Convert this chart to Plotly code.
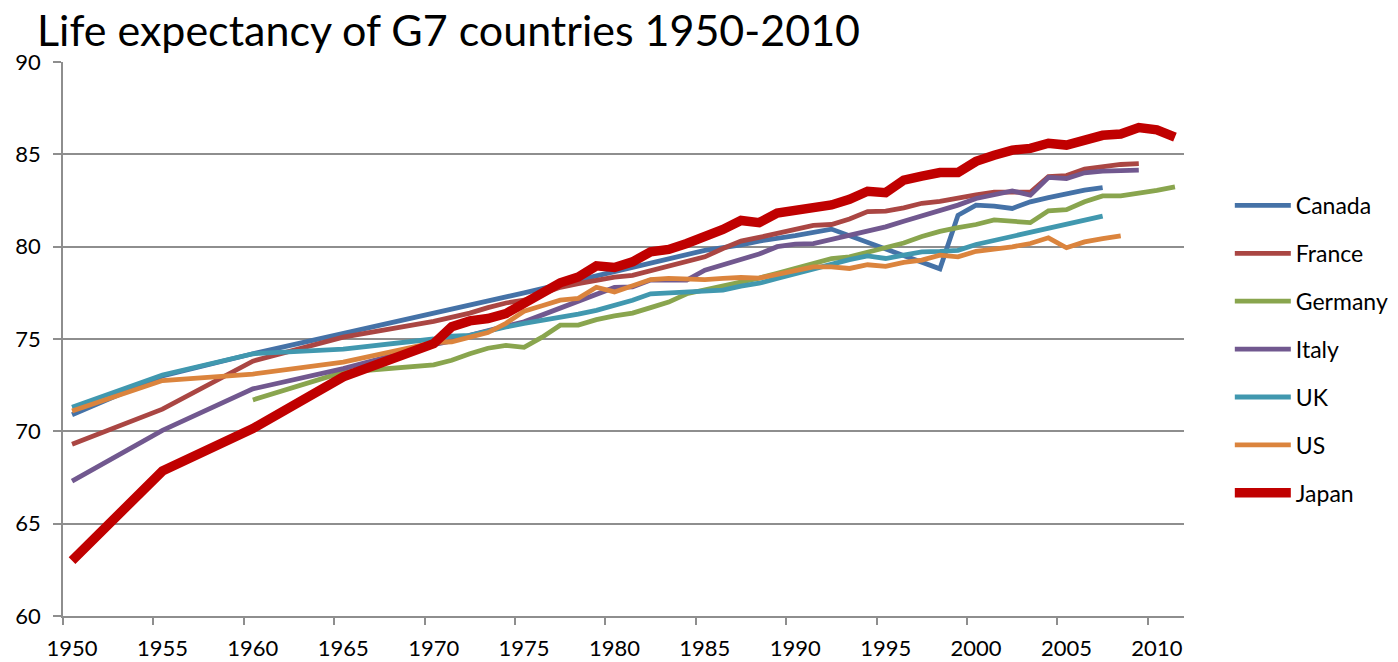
import plotly.graph_objects as go

years = [1950, 1955, 1960, 1965,
         1970, 1971, 1972, 1973, 1974, 1975, 1976, 1977, 1978, 1979,
         1980, 1981, 1982, 1983, 1984, 1985, 1986, 1987, 1988, 1989,
         1990, 1991, 1992, 1993, 1994, 1995, 1996, 1997, 1998, 1999,
         2000, 2001, 2002, 2003, 2004, 2005, 2006, 2007, 2008, 2009,
         2010, 2011]

canada = [70.9, 73.0, 74.2, 75.3,
          76.35, None, None, None, None, 77.5, None, None, None, None,
          78.65, None, None, None, None, 79.8, None, 80.1, 80.3, None,
          80.6, None, 80.95, None, None, None, None, None, 78.8, 81.7,
          82.25, 82.2, 82.07, 82.43, 82.66, 82.88, 83.06, 83.2, None, None,
          None, None]

france = [69.3, 71.2, 73.8, 75.1,
          75.95, 76.15, 76.4, 76.7, 76.95, 77.1, 77.45, 77.8, 78.0, 78.2,
          78.35, 78.45, 78.7, 79.0, 79.2, 79.45, 79.9, 80.3, 80.5, 80.7,
          80.95, 81.15, 81.2, 81.5, 81.9, 81.92, 82.1, 82.35, 82.45, 82.65,
          82.8, 82.95, 82.95, 82.95, 83.8, 83.85, 84.2, 84.35, 84.45, 84.5,
          None, None]

germany = [None, None, 71.7, 73.2,
           73.6, 73.85, 74.2, 74.5, 74.65, 74.55, 75.1, 75.75, 75.75, 76.05,
           76.25, 76.4, 76.7, 77.0, 77.45, 77.65, 77.85, 78.1, 78.3, 78.55,
           78.8, 79.05, 79.35, 79.45, 79.7, 79.98, 80.2, 80.55, 80.83, 81.03,
           81.2, 81.45, 81.35, 81.3, 81.94, 82.0, 82.43, 82.75, 82.75, 82.88,
           83.05, 83.24]

italy = [67.3, 70.05, 72.3, 73.4,
         74.7, 74.9, 75.2, 75.48, 75.7, 75.93, 76.3, 76.74, 77.1, 77.46,
         77.79, 77.82, 78.19, 78.19, 78.19, 78.73, 79.0, 79.27, 79.6, 80.0,
         80.14, 80.17, 80.39, 80.57, 80.8, 81.07, 81.38, 81.67, 81.98, 82.25,
         82.61, 82.84, 83.02, 82.79, 83.75, 83.69, 84.0, 84.09, 84.11, 84.14,
         None, None]

uk = [71.3, 73.05, 74.2, 74.45,
      75.0, 75.15, 75.2, 75.45, 75.65, 75.85, 76.0, 76.15, 76.35, 76.55,
      76.8, 77.1, 77.45, 77.5, 77.55, 77.55, 77.65, 77.86, 78.02, 78.28,
      78.55, 78.82, 79.07, 79.3, 79.5, 79.36, 79.54, 79.72, 79.74, 79.8,
      80.12, None, None, None, None, None, None, 81.65, None, None,
      None, None]

us = [71.1, 72.75, 73.1, 73.75,
      74.8, 74.85, 75.1, 75.35, 75.85, 76.5, 76.8, 77.1, 77.2, 77.8,
      77.55, 77.9, 78.22, 78.28, 78.22, 78.22, 78.28, 78.33, 78.3, 78.5,
      78.72, 78.91, 78.91, 78.82, 79.02, 78.93, 79.15, 79.27, 79.54, 79.45,
      79.75, 79.86, 79.99, 80.17, 80.48, 79.94, 80.26, 80.44, 80.59, None,
      None, None]

japan = [63.0, 67.85, 70.15, 72.95,
         74.75, 75.66, 75.98, 76.11, 76.38, 76.92, 77.46, 78.04, 78.36, 78.96,
         78.87, 79.18, 79.72, 79.85, 80.17, 80.5, 80.93, 81.42, 81.3, 81.82,
         81.98, 82.17, 82.26, 82.56, 83.0, 82.92, 83.6, 83.82, 84.01, 84.01,
         84.62, 84.95, 85.23, 85.32, 85.6, 85.5, 85.81, 86.03, 86.1, 86.45,
         86.33, 85.93]

names = ["Canada", "France", "Germany", "Italy", "UK", "US", "Japan"]
values = [canada, france, germany, italy, uk, us, japan]
colors = ["#4572A7", "#AA4643", "#89A54E", "#71588F", "#4198AF", "#DB843D", "#C00000"]
widths = [4.8, 4.8, 4.8, 4.8, 4.8, 4.8, 9.5]

x_labels = [1950, 1955, 1960, 1965, 1970, 1975, 1980, 1985, 1990, 1995, 2000, 2005, 2010]

FONT = "Lato"
GRID = "#8E8E8E"

fig = go.Figure()
for name, vals, color, w in zip(names, values, colors, widths):
    fig.add_trace(go.Scatter(
        x=years, y=vals, name=name, mode="lines", connectgaps=True,
        legendgroup=name,
        line=dict(color=color, width=w, shape="linear"),
    ))

fig.update_layout(
    width=1390, height=654,
    margin=dict(l=55, r=214, t=54, b=46, pad=0, autoexpand=False),
    paper_bgcolor="white", plot_bgcolor="white",
    font=dict(family=FONT, color="#000000"),
    title=dict(text="Life expectancy of G7 countries 1950-2010",
               font=dict(family=FONT, size=43, color="#000000"),
               x=29 / 1390, xanchor="left", xref="container",
               y=1 - 8 / 654, yanchor="top", yref="container"),
    showlegend=True,
    legend=dict(x=0.879, xanchor="left", xref="container",
                y=0.481, yanchor="middle", yref="container",
                font=dict(family=FONT, size=23, color="#000000"),
                itemwidth=56,
                tracegroupgap=15, bgcolor="rgba(0,0,0,0)", borderwidth=0),
    xaxis=dict(range=[1949.5, 2011.5], tickmode="array", tickvals=x_labels,
               ticktext=[str(v) for v in x_labels], ticks="",
               showgrid=False, zeroline=False, automargin=False,
               showline=True, linecolor=GRID, linewidth=1.5,
               ticklabelstandoff=12,
               tickfont=dict(family=FONT, size=22, color="#000000")),
    yaxis=dict(range=[60, 90], tick0=60, dtick=5, ticks="outside", ticklen=8,
               tickcolor=GRID, tickwidth=1.5, automargin=False,
               showgrid=True, gridcolor=GRID, gridwidth=1.5, zeroline=False,
               showline=True, linecolor=GRID, linewidth=1.5,
               ticklabelstandoff=8,
               tickfont=dict(family=FONT, size=22, color="#000000")),
)
fig.update_xaxes(minor=dict(tick0=1949.5, dtick=5, ticks="outside", ticklen=7,
                            tickcolor=GRID, tickwidth=1.5, showgrid=False))

fig.write_html("out.html")
